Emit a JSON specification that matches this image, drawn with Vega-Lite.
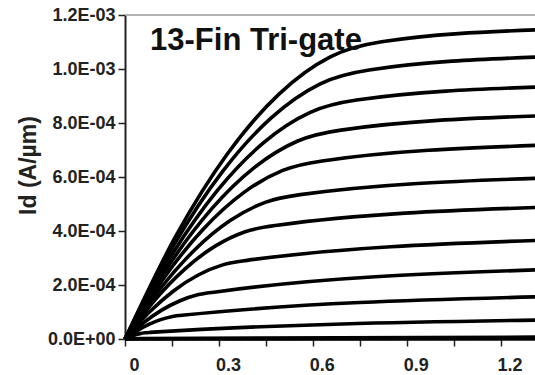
{
  "$schema": "https://vega.github.io/schema/vega-lite/v6.json",
  "width": 410,
  "height": 324,
  "autosize": {"type": "none"},
  "padding": {"left": 125, "top": 15, "right": 0, "bottom": 36},
  "background": "white",
  "config": {"view": {"stroke": null}, "font": "Liberation Sans"},
  "layer": [
    {
      "data": {"values": [{"i": 0.0012}]},
      "mark": {"type": "rule", "color": "#9a9a9a", "strokeWidth": 1.5},
      "encoding": {"y": {"field": "i", "type": "quantitative"}}
    },
    {
      "data": {"values": [
        {"c":1,"v":0,"i":0},{"c":1,"v":0.164,"i":0.0003845},{"c":1,"v":0.328,"i":0.0006868},{"c":1,"v":0.492,"i":0.000907},{"c":1,"v":0.656,"i":0.0010449},{"c":1,"v":0.82,"i":0.0011008},{"c":1,"v":1.31,"i":0.0011449},
        {"c":2,"v":0,"i":0},{"c":2,"v":0.156,"i":0.0003474},{"c":2,"v":0.312,"i":0.0006207},{"c":2,"v":0.468,"i":0.0008199},{"c":2,"v":0.624,"i":0.0009452},{"c":2,"v":0.78,"i":0.0009962},{"c":2,"v":1.31,"i":0.001044},
        {"c":3,"v":0,"i":0},{"c":3,"v":0.148,"i":0.0003085},{"c":3,"v":0.296,"i":0.0005513},{"c":3,"v":0.444,"i":0.0007282},{"c":3,"v":0.592,"i":0.0008394},{"c":3,"v":0.74,"i":0.0008849},{"c":3,"v":1.31,"i":0.000933},
        {"c":4,"v":0,"i":0},{"c":4,"v":0.138,"i":0.0002691},{"c":4,"v":0.276,"i":0.0004811},{"c":4,"v":0.414,"i":0.0006358},{"c":4,"v":0.552,"i":0.0007333},{"c":4,"v":0.69,"i":0.0007737},{"c":4,"v":1.31,"i":0.000826},
        {"c":5,"v":0,"i":0},{"c":5,"v":0.126,"i":0.0002289},{"c":5,"v":0.252,"i":0.0004092},{"c":5,"v":0.378,"i":0.0005411},{"c":5,"v":0.504,"i":0.0006246},{"c":5,"v":0.63,"i":0.0006596},{"c":5,"v":1.31,"i":0.000717},
        {"c":6,"v":0,"i":0},{"c":6,"v":0.112,"i":0.0001854},{"c":6,"v":0.224,"i":0.0003315},{"c":6,"v":0.336,"i":0.0004385},{"c":6,"v":0.448,"i":0.0005062},{"c":6,"v":0.56,"i":0.0005348},{"c":6,"v":1.31,"i":0.000595},
        {"c":7,"v":0,"i":0},{"c":7,"v":0.096,"i":0.0001452},{"c":7,"v":0.192,"i":0.0002599},{"c":7,"v":0.288,"i":0.0003439},{"c":7,"v":0.384,"i":0.0003974},{"c":7,"v":0.48,"i":0.0004204},{"c":7,"v":1.31,"i":0.000487},
        {"c":8,"v":0,"i":0},{"c":8,"v":0.078,"i":0.0000998},{"c":8,"v":0.156,"i":0.0001789},{"c":8,"v":0.234,"i":0.0002371},{"c":8,"v":0.312,"i":0.0002746},{"c":8,"v":0.39,"i":0.0002912},{"c":8,"v":1.31,"i":0.000365},
        {"c":9,"v":0,"i":0},{"c":9,"v":0.058,"i":0.000059},{"c":9,"v":0.116,"i":0.0001059},{"c":9,"v":0.174,"i":0.0001407},{"c":9,"v":0.232,"i":0.0001636},{"c":9,"v":0.29,"i":0.0001742},{"c":9,"v":1.31,"i":0.000256},
        {"c":10,"v":0,"i":0},{"c":10,"v":0.038,"i":0.0000302},{"c":10,"v":0.076,"i":0.0000541},{"c":10,"v":0.114,"i":0.0000718},{"c":10,"v":0.152,"i":0.0000834},{"c":10,"v":0.19,"i":0.0000888},{"c":10,"v":1.31,"i":0.000156},
        {"c":11,"v":0,"i":0},{"c":11,"v":0.016,"i":0.0000083},{"c":11,"v":0.032,"i":0.000015},{"c":11,"v":0.048,"i":0.0000199},{"c":11,"v":0.064,"i":0.000023},{"c":11,"v":0.08,"i":0.0000245},{"c":11,"v":1.31,"i":0.00007},
        {"c":12,"v":0,"i":0},{"c":12,"v":0.05,"i":0.000002},{"c":12,"v":1.31,"i":0.000007},
        {"c":13,"v":0,"i":0},{"c":13,"v":1.31,"i":0.000001}
      ]},
      "mark": {"type": "line", "color": "black", "strokeWidth": 3.6, "interpolate": "monotone"},
      "encoding": {
        "x": {
          "field": "v", "type": "quantitative",
          "scale": {"domain": [0, 1.31], "nice": false, "zero": false},
          "axis": {
            "title": null,
            "values": [0, 0.15, 0.3, 0.45, 0.6, 0.75, 0.9, 1.05, 1.2],
            "format": ".1~f",
            "labelExpr": "round(datum.value / 0.15) % 2 == 0 ? datum.label : ''",
            "labelOffset": 9,
            "labelPadding": 10,
            "labelFlush": false,
            "labelOverlap": false,
            "labelBound": false,
            "labelFont": "Liberation Sans",
            "labelFontSize": 18,
            "labelFontWeight": "bold",
            "labelColor": "#222",
            "tickSize": 7,
            "tickWidth": 1.5,
            "tickColor": "#222",
            "domainColor": "#222",
            "domainWidth": 2,
            "grid": false
          }
        },
        "y": {
          "field": "i", "type": "quantitative",
          "scale": {"domain": [0, 0.0012], "nice": false},
          "axis": {
            "title": "Id (A/µm)",
            "values": [0, 0.0002, 0.0004, 0.0006, 0.0008, 0.001, 0.0012],
            "labelExpr": "replace(replace(format(datum.value, '.1e'), 'e-', 'E-0'), 'e+', 'E+0')",
            "labelFlush": false,
            "labelOverlap": false,
            "labelBound": false,
            "labelPadding": 3,
            "labelFont": "Liberation Sans",
            "labelFontSize": 18,
            "labelFontWeight": "bold",
            "labelColor": "#222",
            "tickSize": 7,
            "tickWidth": 1.5,
            "tickColor": "#222",
            "domainColor": "#222",
            "domainWidth": 2,
            "grid": false,
            "titleFont": "Liberation Sans",
            "titleFontSize": 23,
            "titleFontWeight": "bold",
            "titleColor": "#222",
            "titleAngle": 270,
            "titleAlign": "center",
            "titleBaseline": "middle",
            "titleX": -97,
            "titleY": 150
          }
        },
        "detail": {"field": "c", "type": "nominal"}
      }
    },
    {
      "data": {"values": [{"label": "13-Fin Tri-gate", "v": 0.08, "i": 0.00107}]},
      "mark": {"type": "text", "align": "left", "baseline": "alphabetic", "font": "Liberation Sans", "fontSize": 31, "fontWeight": "bold", "color": "#111"},
      "encoding": {
        "x": {"field": "v", "type": "quantitative"},
        "y": {"field": "i", "type": "quantitative"},
        "text": {"field": "label"}
      }
    }
  ]
}
